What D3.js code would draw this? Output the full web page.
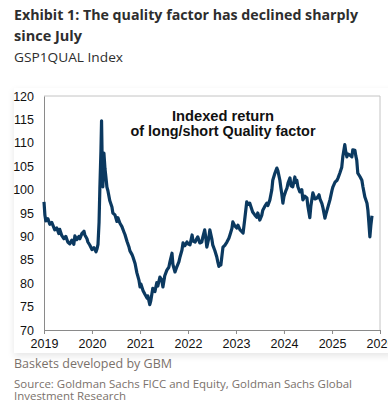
<!DOCTYPE html>
<html>
<head>
<meta charset="utf-8">
<script src="https://cdn.jsdelivr.net/npm/d3@7"></script>
<style>
  html, body { margin: 0; padding: 0; background: #fff; }
  body { width: 388px; height: 415px; position: relative; overflow: hidden; }
  #card {
    position: absolute; left: 14px; top: 88px; width: 380px; height: 265px;
    background: #fff; box-shadow: 0 3px 7px rgba(0,0,0,0.10);
  }
  #chart { position: absolute; left: 0; top: 0; }
</style>
</head>
<body>
<div id="card"></div>
<div id="chart"></div>
<script>
// GSP1QUAL index (roughly weekly, more points where it moves)
var dates = [
  "2019-01-01","2019-01-08","2019-01-15","2019-01-30","2019-02-14","2019-03-01","2019-03-24","2019-04-08",
  "2019-04-24","2019-05-01","2019-05-16","2019-06-01","2019-06-16","2019-07-01","2019-07-16","2019-08-01",
  "2019-08-16","2019-08-24","2019-09-08","2019-09-24","2019-10-01","2019-10-16","2019-11-01","2019-11-08",
  "2019-11-24","2019-12-01","2019-12-16","2020-01-01","2020-01-16","2020-02-01","2020-02-08","2020-02-16",
  "2020-02-24","2020-03-01","2020-03-09","2020-03-14","2020-03-20","2020-03-24","2020-04-01","2020-04-09",
  "2020-04-16","2020-04-24","2020-05-01","2020-05-16","2020-06-01","2020-06-08","2020-06-24","2020-07-09",
  "2020-07-16","2020-08-01","2020-08-16","2020-09-01","2020-09-08","2020-09-24","2020-10-08","2020-10-16",
  "2020-11-01","2020-11-08","2020-11-24","2020-12-08","2020-12-24","2021-01-01","2021-01-08","2021-01-24",
  "2021-02-08","2021-02-24","2021-03-01","2021-03-16","2021-03-24","2021-04-08","2021-04-24","2021-05-08",
  "2021-05-16","2021-06-01","2021-06-16","2021-06-24","2021-07-08","2021-07-24","2021-08-08","2021-08-16",
  "2021-09-01","2021-09-08","2021-09-24","2021-10-08","2021-10-24","2021-11-01","2021-11-16","2021-11-24",
  "2021-12-08","2021-12-24","2022-01-01","2022-01-16","2022-02-01","2022-02-08","2022-02-24","2022-03-08",
  "2022-03-16","2022-04-01","2022-04-16","2022-04-24","2022-05-08","2022-05-16","2022-05-24","2022-06-08",
  "2022-06-16","2022-07-01","2022-07-08","2022-07-24","2022-08-08","2022-08-16","2022-08-24","2022-09-01",
  "2022-09-08","2022-09-16","2022-09-24","2022-10-08","2022-10-24","2022-11-08","2022-11-16","2022-12-01",
  "2022-12-08","2022-12-24","2023-01-08","2023-01-16","2023-02-01","2023-02-16","2023-02-24","2023-03-08",
  "2023-03-24","2023-04-01","2023-04-16","2023-05-01","2023-05-08","2023-05-24","2023-06-08","2023-06-16",
  "2023-07-01","2023-07-16","2023-07-24","2023-08-08","2023-08-24","2023-09-01","2023-09-16","2023-10-01",
  "2023-10-08","2023-10-24","2023-11-08","2023-11-16","2023-12-01","2023-12-08","2023-12-16","2023-12-24",
  "2024-01-01","2024-01-16","2024-01-24","2024-02-01","2024-02-16","2024-02-24","2024-03-08","2024-03-24",
  "2024-04-01","2024-04-08","2024-04-16","2024-05-01","2024-05-16","2024-05-24","2024-06-08","2024-06-24",
  "2024-07-01","2024-07-16","2024-07-24","2024-08-08","2024-08-24","2024-09-08","2024-09-24","2024-10-01",
  "2024-10-16","2024-10-24","2024-11-08","2024-11-16","2024-12-01","2024-12-16","2025-01-01","2025-01-08",
  "2025-01-24","2025-02-08","2025-02-16","2025-03-01","2025-03-16","2025-03-24","2025-04-08","2025-04-16",
  "2025-04-24","2025-05-01","2025-05-16","2025-06-01","2025-06-08","2025-06-24","2025-07-01","2025-07-08",
  "2025-07-16","2025-08-01","2025-08-16","2025-08-24","2025-09-08","2025-09-24","2025-10-01","2025-10-08",
  "2025-10-16","2025-10-24","2025-11-01"
];
var values = [
  97.4, 94.5, 93.3, 93.8, 92.6, 93.0, 91.4, 91.8,
  90.6, 91.5, 90.2, 89.5, 90.0, 88.8, 88.4, 89.2,
  88.3, 90.1, 89.3, 90.0, 89.5, 90.6, 91.1, 90.3,
  89.5, 88.8, 88.1, 87.2, 87.6, 86.7, 87.3, 88.3,
  93.0, 100.2, 108.0, 114.7, 104.0, 100.6, 107.8, 104.5,
  102.7, 100.5, 99.8, 97.6, 96.3, 95.0, 94.6, 93.2,
  94.0, 92.8, 92.1, 90.9, 90.4, 88.9, 87.8, 86.9,
  86.1, 85.6, 84.2, 82.2, 80.6, 79.2, 79.8, 78.4,
  77.6, 76.8, 77.3, 75.4, 76.3, 78.9, 78.2, 80.1,
  79.4, 81.3, 80.6, 79.2, 81.6, 82.8, 83.4, 84.5,
  86.4, 84.0, 82.4, 83.5, 84.6, 85.6, 87.1, 88.6,
  88.0, 88.8, 88.4, 88.2, 90.3, 89.0, 88.8, 89.5,
  89.9, 88.6, 88.8, 89.9, 91.4, 89.8, 87.7, 89.6,
  91.4, 89.5, 88.2, 87.0, 85.6, 84.5, 83.6, 84.1,
  83.9, 85.8, 87.7, 88.1, 88.8, 89.6, 90.3, 91.7,
  93.1, 92.2, 91.8, 92.4, 91.4, 91.0, 90.7, 93.5,
  97.4, 96.8, 97.1, 95.8, 95.2, 94.6, 94.1, 95.0,
  93.5, 94.5, 95.6, 96.4, 97.1, 96.6, 97.8, 100.0,
  102.0, 103.5, 104.6, 104.0, 102.0, 100.5, 99.0, 97.1,
  98.5, 99.8, 100.3, 101.4, 102.5, 100.8, 100.6, 102.7,
  101.5, 102.0, 100.6, 99.5, 100.0, 97.8, 98.6, 98.2,
  96.5, 94.0, 96.5, 99.3, 98.0, 98.2, 98.9, 98.0,
  97.0, 96.1, 93.9, 94.8, 96.3, 97.8, 99.9, 100.6,
  101.6, 102.0, 102.5, 103.5, 104.8, 107.0, 109.6, 108.0,
  107.0, 107.6, 107.4, 107.0, 108.5, 108.4, 107.2, 106.3,
  103.5, 102.8, 102.0, 100.6, 98.4, 97.1, 95.6, 93.0,
  89.9, 92.5, 94.4
];
var xTickYears = [2019, 2020, 2021, 2022, 2023, 2024, 2025, 2026];
var yTicks = [70, 75, 80, 85, 90, 95, 100, 105, 110, 115, 120];
var noteLines = ["Indexed return", "of long/short Quality factor"];

var width = 388, height = 415;
var plot = {left: 44, right: 380, top: 96, bottom: 330};

var parse = d3.timeParse("%Y-%m-%d");
var data = dates.map(function(d, i) { return {date: parse(d), value: values[i]}; });

var svg = d3.select("#chart").append("svg")
  .attr("width", width)
  .attr("height", height);

// titles
var head = svg.append("g").attr("font-family", "'Open Sans', 'Noto Sans', sans-serif").attr("fill", "#2e2e2e");
head.append("text")
  .attr("x", 14).attr("y", 19.5)
  .attr("font-size", 14.5).attr("font-weight", 700)
  .attr("textLength", 344).attr("lengthAdjust", "spacingAndGlyphs")
  .text("Exhibit 1: The quality factor has declined sharply");
head.append("text")
  .attr("x", 14).attr("y", 41)
  .attr("font-size", 14.5).attr("font-weight", 700)
  .attr("textLength", 68).attr("lengthAdjust", "spacingAndGlyphs")
  .text("since July");
head.append("text")
  .attr("x", 14).attr("y", 62)
  .attr("font-size", 13).attr("font-weight", 400)
  .attr("textLength", 109).attr("lengthAdjust", "spacingAndGlyphs")
  .text("GSP1QUAL Index");

var x = d3.scaleTime()
  .domain([new Date(2019, 0, 1), new Date(2026, 0, 1)])
  .range([plot.left, plot.right]);
var y = d3.scaleLinear()
  .domain([70, 120])
  .range([plot.bottom, plot.top]);

// light frame on top and right
svg.append("path")
  .attr("d", "M" + plot.left + "," + plot.top + "H" + plot.right + "V" + plot.bottom)
  .attr("fill", "none")
  .attr("stroke", "#c4c4c4")
  .attr("stroke-width", 1);

var xAxis = d3.axisBottom(x)
  .tickValues(xTickYears.map(function(yr) { return new Date(yr, 0, 1); }))
  .tickFormat(d3.timeFormat("%Y"))
  .tickSize(4)
  .tickPadding(3);

var yAxis = d3.axisLeft(y)
  .tickValues(yTicks)
  .tickSize(0)
  .tickPadding(10);

var gx = svg.append("g")
  .attr("transform", "translate(0," + plot.bottom + ")")
  .call(xAxis);
var gy = svg.append("g")
  .attr("transform", "translate(" + plot.left + ",0)")
  .call(yAxis);

[gx, gy].forEach(function(g) {
  g.select(".domain").attr("stroke", "#8a8a8a");
  g.selectAll(".tick line").attr("stroke", "#8a8a8a");
  g.selectAll(".tick text")
    .attr("fill", "#111")
    .attr("font-size", 12.5)
    .attr("font-family", "'Liberation Sans', Arial, sans-serif");
});
gx.selectAll(".tick text").attr("dy", "0.85em");

var valueline = d3.line()
  .x(function(d) { return x(d.date); })
  .y(function(d) { return y(d.value); })
  .curve(d3.curveLinear);

svg.append("path")
  .datum(data)
  .attr("d", valueline)
  .attr("fill", "none")
  .attr("stroke", "#0b3960")
  .attr("stroke-width", 3.2)
  .attr("stroke-linejoin", "round");

// note inside the plot
var note = svg.append("g")
  .attr("font-family", "'Liberation Sans', Arial, sans-serif")
  .attr("font-weight", 700)
  .attr("font-size", 14)
  .attr("fill", "#111")
  .attr("text-anchor", "middle");
note.append("text").attr("x", 223).attr("y", 120.5)
  .attr("textLength", 102).attr("lengthAdjust", "spacingAndGlyphs")
  .text(noteLines[0]);
note.append("text").attr("x", 223).attr("y", 136)
  .attr("textLength", 185).attr("lengthAdjust", "spacingAndGlyphs")
  .text(noteLines[1]);

// footer
var foot = svg.append("g").attr("font-family", "'Open Sans', 'Noto Sans', sans-serif").attr("fill", "#7a716b");
foot.append("text")
  .attr("x", 14).attr("y", 368)
  .attr("font-size", 13)
  .attr("textLength", 158).attr("lengthAdjust", "spacingAndGlyphs")
  .text("Baskets developed by GBM");
foot.append("text")
  .attr("x", 14).attr("y", 388)
  .attr("font-size", 11)
  .attr("textLength", 338).attr("lengthAdjust", "spacingAndGlyphs")
  .text("Source: Goldman Sachs FICC and Equity, Goldman Sachs Global");
foot.append("text")
  .attr("x", 14).attr("y", 400)
  .attr("font-size", 11)
  .attr("textLength", 112).attr("lengthAdjust", "spacingAndGlyphs")
  .text("Investment Research");
</script>
</body>
</html>
